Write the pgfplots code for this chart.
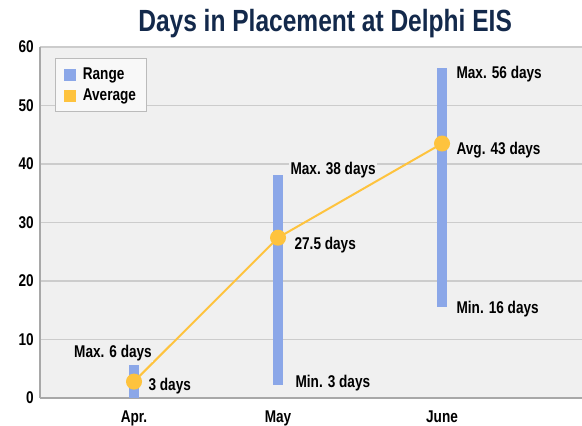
\documentclass[border=0pt]{standalone}
\usepackage{fontspec}
\setmainfont{Liberation Sans}[FakeStretch=0.8]
\usepackage{pgfplots}
\pgfplotsset{compat=1.18}
\definecolor{rangec}{HTML}{8BA7E8}
\definecolor{avgc}{HTML}{FEC33E}
\definecolor{bgc}{HTML}{F0F0F0}
\definecolor{gridc}{HTML}{CCCCCC}
\definecolor{axisc}{HTML}{A8A8A8}
\definecolor{titlec}{HTML}{13294B}
\definecolor{legbg}{HTML}{F8F8F8}
\definecolor{legdraw}{HTML}{BBBBBB}
\newcommand{\lblfont}{\bfseries\fontsize{12.75}{14}\selectfont}
\begin{document}
\begin{tikzpicture}
\begin{axis}[name=ax, scale only axis, width=406.5pt, height=263.25pt,
  xmin=-0.653, xmax=3.111, ymin=0, ymax=60,
  xtick={0,1,2.139}, xticklabels={Apr.,May,June},
  ytick={0,10,...,60},
  axis background/.style={fill=bgc},
  ymajorgrids, grid style={gridc, line width=1pt},
  axis x line*=bottom, axis y line*=left,
  axis line style={-, axisc, line width=1.5pt},
  major tick length=0pt, tick style={draw=none},
  ticklabel style={font=\lblfont},
  /pgf/number format/assume math mode=true,
  yticklabel style={inner sep=0pt, xshift=-4.5pt},
  xticklabel style={inner sep=0pt, yshift=-9.5pt},
  clip=false,
  legend style={at={(0.0277,0.9687)}, anchor=north west, fill=legbg, draw=legdraw,
    line width=0.75pt, font=\lblfont, inner xsep=6pt, inner ysep=5pt, row sep=1.5pt},
  legend cell align=left,
]
\addplot[rangec, line width=7.5pt, legend image code/.code={\fill[rangec, draw=none, line width=0pt] (0pt,-4.5pt) rectangle (9pt,4.5pt); \path[draw=none, fill=none] (0pt,0pt) rectangle (12.5pt,0pt);}]
  coordinates {(0,0) (0,5.6)};
\addlegendentry{Range}
\addplot[rangec, line width=7.5pt, forget plot] coordinates {(1,2.3) (1,38.2)};
\addplot[rangec, line width=7.5pt, forget plot] coordinates {(2.139,15.6) (2.139,56.4)};
\addplot[avgc, line width=1.5pt, mark=*, mark size=5.25pt, mark options={fill=avgc, draw=none},
  legend image code/.code={\fill[avgc, draw=none, line width=0pt] (0pt,-4.5pt) rectangle (9pt,4.5pt); \path[draw=none, fill=none] (0pt,0pt) rectangle (12.5pt,0pt);}]
  coordinates {(0,2.8) (1,27.4) (2.139,43.5)};
\addlegendentry{Average}
\tikzset{lbl/.style={font=\lblfont, fill=bgc, inner sep=1pt}}
\node[lbl] at (axis cs:-0.146,7.7) {Max. 6 days};
\node[lbl, anchor=west] at (axis cs:0.09,2.05) {3 days};
\node[lbl, anchor=west] at (axis cs:1.076,39.0) {Max. 38 days};
\node[lbl, anchor=west] at (axis cs:1.104,26.2) {27.5 days};
\node[lbl, anchor=west] at (axis cs:1.111,2.6) {Min. 3 days};
\node[lbl, anchor=west] at (axis cs:2.229,55.4) {Max. 56 days};
\node[lbl, anchor=west] at (axis cs:2.229,42.4) {Avg. 43 days};
\node[lbl, anchor=west] at (axis cs:2.229,15.2) {Min. 16 days};
\node[font=\bfseries\fontsize{23}{26}\selectfont, text=titlec] at (rel axis cs:0.526,1) [yshift=17.25pt] {Days in Placement at Delphi EIS};
\end{axis}
\pgfresetboundingbox
\path ([xshift=-30pt, yshift=-21pt]ax.south west) rectangle ([yshift=35.25pt]ax.north east);
\end{tikzpicture}
\end{document}
